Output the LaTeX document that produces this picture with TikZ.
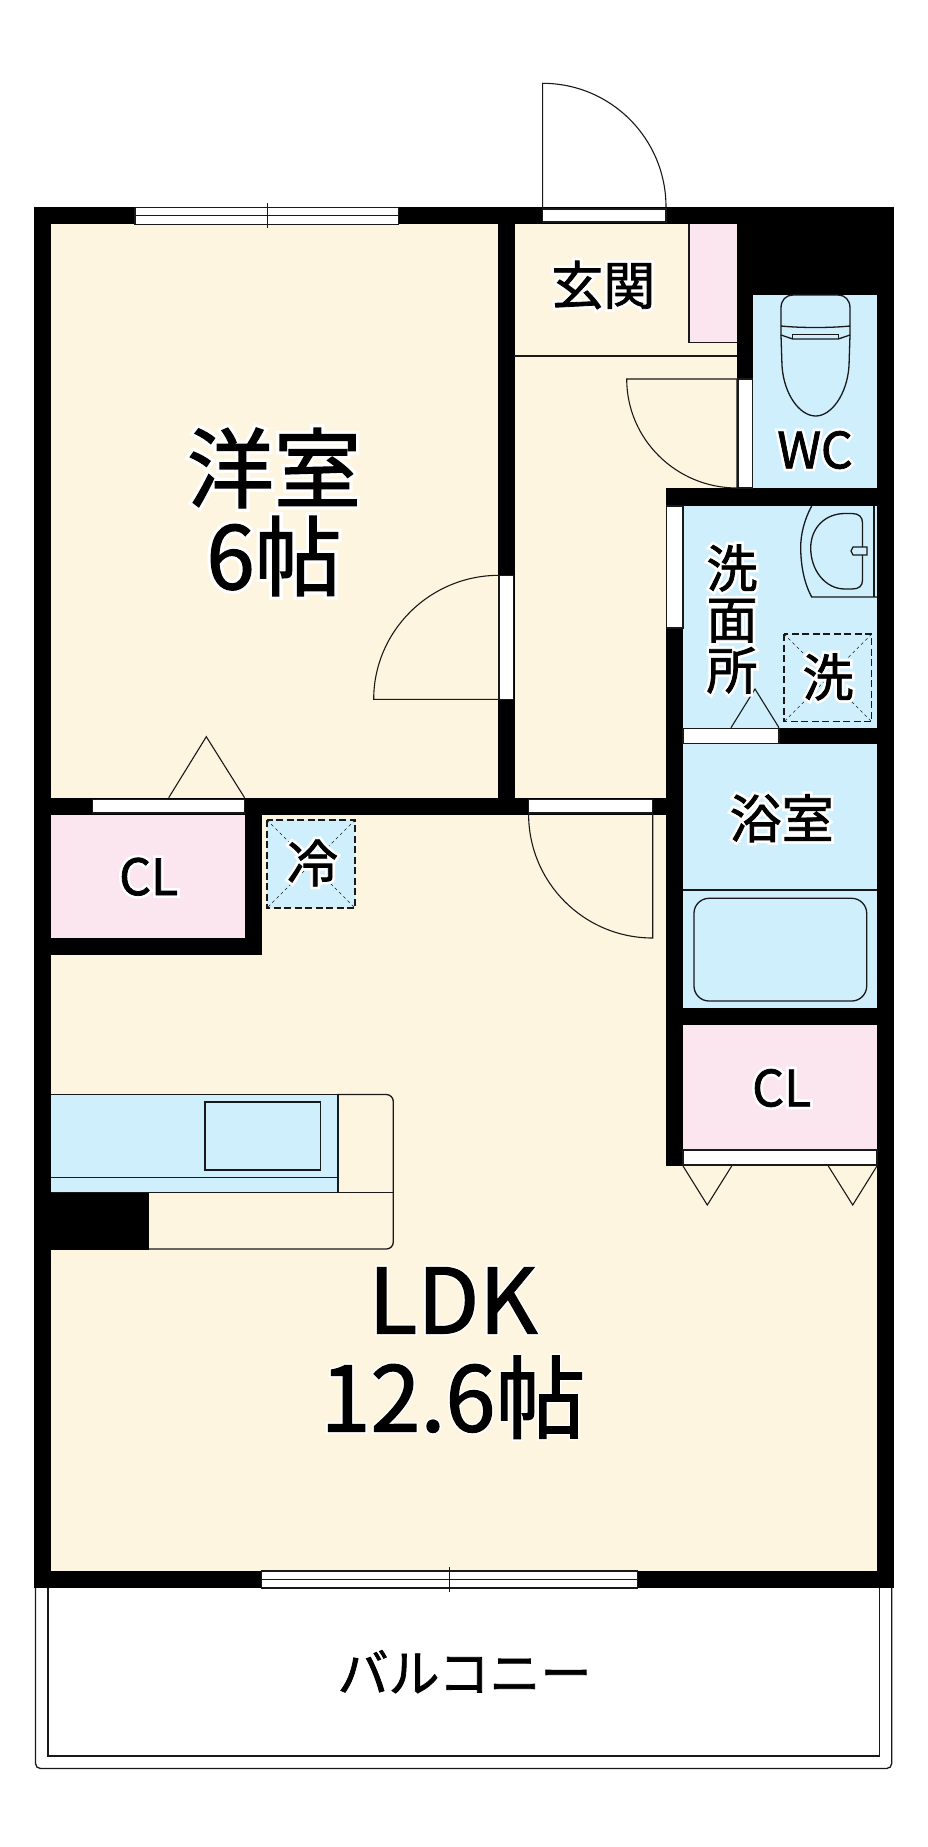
\documentclass[tikz,border=0pt]{standalone}
\usepackage{fontspec}
\newfontfamily\jp{Noto Sans CJK JP}
\definecolor{beige}{RGB}{254,245,225}
\definecolor{sky}{RGB}{207,239,253}
\definecolor{rose}{RGB}{251,230,240}
\definecolor{ink}{RGB}{25,25,25}
\tikzset{
  x=1pt,y=-1pt,
  wall/.style={fill=black,draw=none},
  thin line/.style={draw=ink,line width=1.1pt},
  opening/.style={fill=white,draw=ink,line width=1.1pt},
  fixture/.style={draw=ink,line width=1.3pt},
  pan/.style={draw=ink,line width=1.2pt,dash pattern=on 7pt off 3.5pt},
  pandiag/.style={draw=ink,line width=.6pt,dash pattern=on 3pt off 3pt},
  labeltext/.style={inner sep=0pt,align=center,text=black},
  halotext/.style={inner sep=0pt,align=center,text=white},
}
% #1 name, #2 position, #3 size, #4 line distance, #5 halo strength, #6 text
\newcommand{\lab}[6]{%
  \node[halotext,font={\font\halofont="Noto Sans CJK JP:embolden=#5" at #3pt \halofont\baselineskip=#4pt}] (#1-halo) at (#2) {#6};
  \node[labeltext,font={\font\inkfont="Noto Sans CJK JP:embolden=1.5" at #3pt \inkfont\baselineskip=#4pt}] (#1) at (#2) {#6};
}
\begin{document}
\begin{tikzpicture}
\useasboundingbox (0,0) rectangle (928,1847);
\fill[white] (0,0) rectangle (928,1847);
% balcony
\draw[line width=1.3pt,draw=ink,rounded corners=5pt] (35.5,1585) -- (35.5,1768.5) -- (891.7,1768.5) -- (891.7,1585);
\draw[line width=1.3pt,draw=ink] (48,1585) -- (48,1756) -- (879.3,1756) -- (879.3,1585);
% room fills
\fill[beige] (50,224) rectangle (498,798);
\fill[beige] (514,224) rectangle (737,488);
\fill[beige] (514,488) rectangle (666,798);
\fill[beige] (50,814) rectangle (666,1571);
\fill[beige] (666,1165) rectangle (878,1571);
\fill[rose] (689,224) rectangle (737,342.3);
\draw[thin line] (737,342.3) -- (689,342.3) -- (689,224);
\fill[sky] (753,294) rectangle (878,488.5);
\fill[sky] (683,505) rectangle (878,1008);
\fill[rose] (50,814) rectangle (245,938.5);
\fill[rose] (683,1025) rectangle (878,1150);
% walls
\fill[wall] (34,207) rectangle (894,224);
\fill[wall] (34,207) rectangle (50.5,1588);
\fill[wall] (877.3,207) rectangle (894,1588);
\fill[wall] (498,207) rectangle (514.5,798);
\fill[wall] (737,207) rectangle (894,294.7);
\fill[wall] (737,224) rectangle (753.3,488);
\fill[wall] (666,488) rectangle (894,505.7);
\fill[wall] (666,488) rectangle (683.3,1165.5);
\fill[wall] (683,727.7) rectangle (894,744.3);
\fill[wall] (34,797.7) rectangle (683,814.7);
\fill[wall] (244.6,797.7) rectangle (261.6,955.3);
\fill[wall] (34,938.3) rectangle (261.6,955.3);
\fill[wall] (666,1007.7) rectangle (894,1025.3);
\fill[wall] (34,1191) rectangle (149,1250.3);
\fill[wall] (34,1571) rectangle (894,1587.7);
% windows and openings
\draw[opening] (135,207.7) rectangle (398.8,224.3);
\draw[thin line] (135,215.7) -- (398.8,215.7);
\draw[thin line,line width=.7pt] (266.9,203) -- (266.9,228.3);
\draw[opening] (261.5,1571) rectangle (637.9,1588);
\draw[thin line,line width=1.4pt] (261.5,1579.3) -- (637.9,1579.3);
\draw[thin line,line width=.7pt] (449.7,1567.3) -- (449.7,1591.7);
\draw[opening] (542.6,209) rectangle (666,222);
\draw[opening] (738,379) rectangle (752.5,488);
\draw[opening] (499,575.3) rectangle (513.3,699.3);
\draw[opening] (666.5,506) rectangle (683,628);
\draw[opening] (683,728.5) rectangle (779,743.5);
\draw[opening] (92.4,799.7) rectangle (244.6,813);
\draw[opening] (528.6,799.7) rectangle (652.7,813);
\draw[opening] (683,1150) rectangle (877,1165);
% doors
\draw[thin line] (542.6,209) -- (542.6,83.3) .. controls (610.8,83.3) and (666,138.5) .. (666,207);
\draw[thin line] (737,488) -- (737,379) -- (626.7,379) .. controls (626.7,439) and (676,488) .. (737,488);
\draw[thin line] (499,575.3) .. controls (430,575.3) and (373.7,631) .. (373.7,699.3) -- (499,699.3);
\draw[thin line] (528.6,814) .. controls (528.6,882.5) and (584,938) .. (652.7,938) -- (652.7,814);
\draw[thin line] (514,356) -- (737,356);
% folding doors
\draw[thin line] (168.7,797.7) -- (206.3,736.7) -- (244.6,797.7);
\draw[thin line] (731,727.7) -- (755,689) -- (779,727.7);
\draw[thin line] (683,1166) -- (707.3,1205) -- (731.7,1166);
\draw[thin line] (828.3,1166) -- (852.7,1205) -- (877,1166);
% toilet
\draw[fixture] (781,326) -- (781,308) .. controls (781,300) and (786,295) .. (793,295) -- (838,295) .. controls (845,295) and (850,300) .. (850,308) -- (850,326);
\draw[fixture] (781,326) .. controls (800,328) and (831,328) .. (850,326);
\draw[fixture] (781,326) -- (781,335) -- (792.7,339) -- (838.3,339) -- (850,335) -- (850,326);
\draw[fixture] (792.7,339) -- (792.7,334.3) -- (838.3,334.3) -- (838.3,339);
\draw[fixture] (781,335) -- (782,366) .. controls (784,395) and (800,416) .. (815.7,416) .. controls (831,416) and (847,395) .. (849,366) -- (850,335);
% basin
\draw[fixture] (811.7,506) .. controls (804,520) and (800.7,535) .. (800.7,547) .. controls (800.7,565) and (804,583) .. (811.7,597) -- (877,597);
\draw[fixture] (874,506) -- (874,597);
\draw[fixture] (852,513.5) .. controls (859,513.5) and (862.5,517) .. (862.5,523) -- (862.5,580) .. controls (862.5,586) and (859,589) .. (852,589) -- (845,589) .. controls (825,589) and (810.7,570) .. (810.7,548) .. controls (810.7,528) and (825,513.5) .. (845,513.5) -- cycle;
\draw[fixture,fill=sky] (853,547) -- (867,547) -- (867,555) -- (853,555) -- (851,551) -- cycle;
% washer pan
\draw[pandiag] (784,634) -- (871.7,721.7);
\draw[pandiag] (871.7,634) -- (784,721.7);
\draw[pan] (784,634) rectangle (871.7,721.7);
% fridge pan
\fill[sky] (267,820) rectangle (355,908);
\draw[pandiag] (267,820) -- (355,908);
\draw[pandiag] (355,820) -- (267,908);
\draw[pan] (267,820) rectangle (355,908);
% bath
\draw[fixture] (683,890) -- (877,890);
\draw[fixture,rounded corners=15pt] (694,898.3) rectangle (866.7,1001);
% kitchen
\fill[sky] (51,1095) rectangle (337,1191.7);
\draw[fixture,rounded corners=7pt] (337,1094.5) -- (393.3,1094.5) -- (393.3,1249) -- (149,1249);
\draw[fixture] (51,1094.5) -- (337,1094.5);
\draw[fixture,line width=1.6pt] (337.7,1094.5) -- (337.7,1192.7);
\draw[fixture] (51,1192.7) -- (393.3,1192.7);
\draw[fixture] (51,1177.7) -- (337,1177.7);
\draw[fixture] (205,1102) rectangle (320.3,1170);
% labels
\lab{youshitsu}{274,512}{87}{88}{9}{洋室\\6帖}
\lab{genkan}{603.3,285}{52}{52}{12}{玄関}
\lab{wc}{815,450}{50}{52}{12}{WC}
\lab{senmen}{732,619}{51}{51}{12}{洗\\面\\所}
\lab{sentaku}{828,677}{51}{52}{12}{洗}
\lab{yokushitsu}{781.7,818.3}{52}{52}{12}{浴室}
\lab{cl1}{148.7,876.7}{50}{52}{12}{CL}
\lab{cl2}{781.7,1088}{50}{52}{12}{CL}
\lab{rei}{312.5,863}{51}{52}{12}{冷}
\lab{ldk}{453,1353}{90}{98}{5}{LDK\\12.6帖}
\node[labeltext,font={\font\balfont="Noto Sans CJK JP:embolden=1.5" at 51pt \balfont}] (balcony) at (464.5,1671.7) {バルコニー};
\end{tikzpicture}
\end{document}
